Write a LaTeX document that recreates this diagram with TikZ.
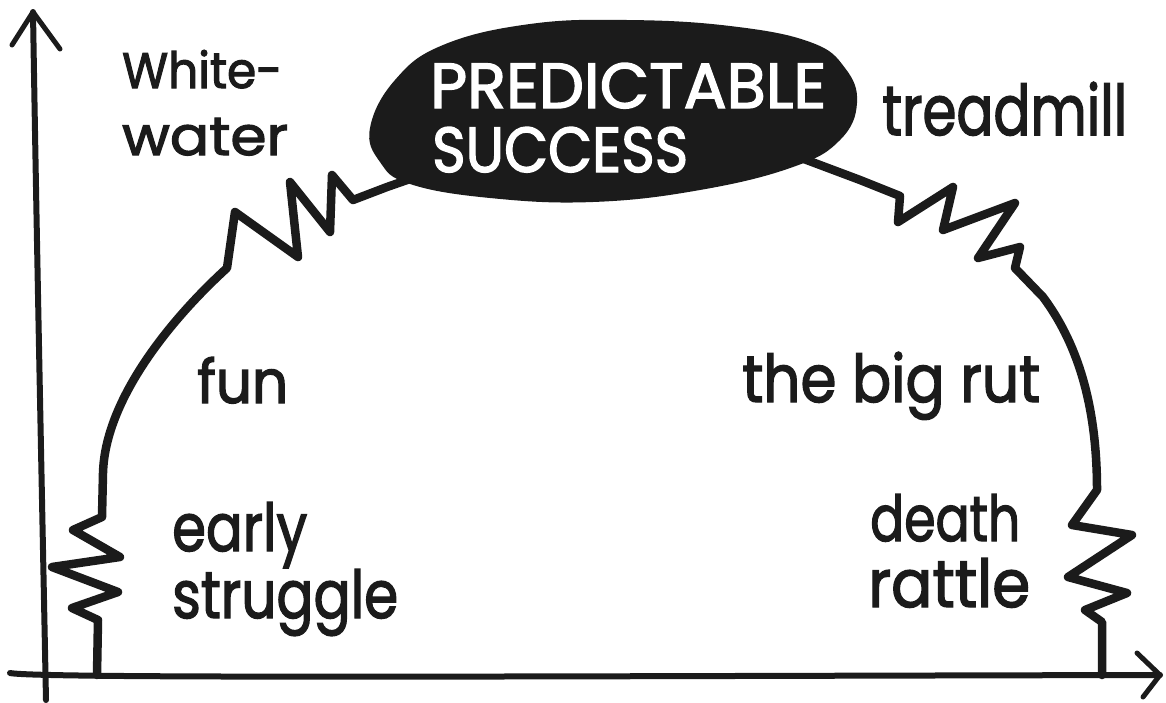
\documentclass[tikz,border=0pt]{standalone}
\usepackage{fontspec}
\usepackage{graphicx}
\newfontfamily\hand{Poppins}[FakeBold=2.2]
\definecolor{ink}{HTML}{1B1B1B}
\tikzset{
  curve/.style={line width=8.5pt, line cap=round, line join=round, draw=ink},
  axisline/.style={line width=6pt, line cap=round, line join=round, draw=ink},
  lbl/.style={anchor=base west, inner sep=0pt, text=ink, font=\hand\fontsize{40}{40}\selectfont},
  wlbl/.style={anchor=base west, inner sep=0pt, text=white, font=\hand\fontsize{40}{40}\selectfont},
}
\newcommand\fitw[3]{\resizebox{#1pt}{#2pt}{#3}}
\begin{document}
\begin{tikzpicture}[x=1pt,y=-1pt]
\useasboundingbox (0,0) rectangle (1166,702);
% axes
\coordinate (ybot) at (46,700);
\coordinate (ytop) at (33,12);
\coordinate (yl) at (12,45);
\coordinate (yr) at (60,49);
\coordinate (xleft) at (10,673);
\coordinate (xright) at (1160,675);
\coordinate (xu) at (1137,653);
\coordinate (xd) at (1143,697);
\draw[axisline] (ybot) .. controls (40,400) and (36,200) .. (ytop);
\draw[axisline, line width=5pt] (yl) -- (ytop) -- (yr);
\draw[axisline] (xleft) .. controls (40,679) and (600,676) .. (xright);
\draw[axisline, line width=5pt] (xu) -- (xright) -- (xd);
% main curve
\draw[curve] (97,675) -- (98,620) -- (72,608) -- (118,592) -- (52,567) -- (120,557)
  -- (73,530) -- (102,517) -- (103,473)
  .. controls (105,400) and (170,320) .. (227,268)
  -- (235,212) -- (298,257) -- (290,182) -- (330,232) -- (332,175) -- (353,200)
  -- (387,187) -- (430,172) -- (780,150) -- (860,180) -- (900,196)
  -- (898,222) -- (953,187) -- (943,230) -- (1015,203) -- (978,258) -- (1020,247)
  -- (1015,268) -- (1043,297)
  .. controls (1075,340) and (1097,400) .. (1097,490)
  -- (1072,525) -- (1132,535) -- (1068,577) -- (1127,593) -- (1085,610) -- (1102,622)
  -- (1102,675);
% blob
\fill[ink] plot[smooth cycle, tension=0.7] coordinates {
  (370,128) (395,80) (443,45) (530,24) (627,20) (730,26) (810,42) (845,68)
  (857,103) (840,140) (793,167) (700,190) (593,202) (490,198) (410,184) (380,162)};
% labels
\node[wlbl] (pred) at (430,108) {\fitw{396}{45}{PREDICTABLE}};
\node[wlbl] (succ) at (432,172) {\fitw{256}{45}{SUCCESS}};
\node[lbl] (white) at (122,88) {\fitw{160}{38}{White-}};
\node[lbl] (water) at (122,155) {\fitw{166}{37}{water}};
\node[lbl] (tread) at (882,135) {\fitw{245}{53}{treadmill}};
\node[lbl] (fun) at (197,403) {\fitw{91}{46}{fun}};
\node[lbl] (rut) at (742,402) {\fitw{298}{50}{the big rut}};
\node[lbl] (early) at (172,551) {\fitw{135}{49}{early}};
\node[lbl] (strug) at (172,618) {\fitw{226}{49}{struggle}};
\node[lbl] (death) at (870,541) {\fitw{150}{47}{death}};
\node[lbl] (rattle) at (868,607) {\fitw{162}{49}{rattle}};
\end{tikzpicture}
\end{document}
